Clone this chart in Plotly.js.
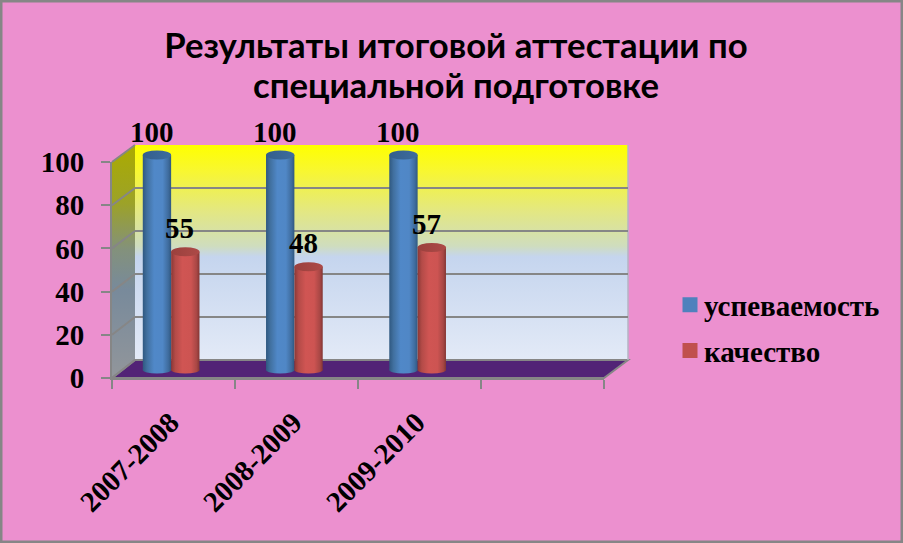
<!DOCTYPE html>
<html>
<head>
<meta charset="utf-8">
<script src="https://cdn.plot.ly/plotly-3.0.1.min.js"></script>
<style>html,body{margin:0;padding:0;background:#EC90CF;overflow:hidden}#c{width:903px;height:543px}</style>
</head>
<body>
<div id="c"></div>
<script>
const categories = ['2007-2008', '2008-2009', '2009-2010', ' '];
const seriesNames = ['успеваемость', 'качество'];
const passRate = [100, 100, 100, null];
const quality = [55, 48, 57, null];
const yTicks = [0, 20, 40, 60, 80, 100];
const titleText = 'Результаты итоговой аттестации по<br>специальной подготовке';

const W = 903, H = 543;
const px = v => v / W, py = v => 1 - v / H;
const serif = '"Liberation Serif", serif';
const GREY = '#868686';
const BLUE = '#4F81BD', RED = '#C0504D';

// geometry of the pseudo-3D box
const front = {l: 112, r: 604, b: 378, t: 162};
const back = {l: 135, r: 628, b: 360, t: 145};
// bar axis runs -5..110 so that the cylinder ends are not clipped (0 at y=370, 100 at y=155)
const bars = {l: 109.5, r: 602.5, b: 380.75, t: 133.5};

const pathOf = pts => 'M' + pts.map(p => px(p[0]) + ',' + py(p[1])).join('L') + 'Z';
const shapes = [];
const grad = {};
function addShape(s, g) { if (g) grad[shapes.length] = g; shapes.push(s); }
const paperShape = (pts, fill, line) => ({type: 'path', xref: 'paper', yref: 'paper', layer: 'below',
  path: pathOf(pts), fillcolor: fill, line: line ? {color: line, width: 2} : {width: 0}});

addShape({type: 'rect', xref: 'paper', yref: 'paper', x0: 0, x1: 1, y0: 0, y1: 1, layer: 'below',
  line: {color: GREY, width: 5}, fillcolor: 'rgba(0,0,0,0)'});
addShape(paperShape([[back.l, back.t], [back.r, back.t], [back.r, back.b], [back.l, back.b]], '#C5D5EF'), 'gWall');
addShape(paperShape([[front.l, front.t], [back.l, back.t], [back.l, back.b], [front.l, front.b]], '#8f9499'), 'gSide');
addShape(paperShape([[front.l, front.b], [back.l, back.b], [back.r, back.b], [front.r, front.b]], '#522376', GREY));
addShape({type: 'line', xref: 'paper', yref: 'paper', layer: 'below',
  x0: px(back.r), x1: px(back.r), y0: py(back.t), y1: py(back.b), line: {color: '#b5b5c5', width: 1.5}});
yTicks.forEach(v => {
  const yf = front.b + (front.t - front.b) * v / 100, yb = back.b + (back.t - back.b) * v / 100;
  addShape({type: 'line', xref: 'paper', yref: 'paper', layer: 'below', x0: px(front.l), y0: py(yf),
    x1: px(back.l), y1: py(yb), line: {color: GREY, width: 2}});
});

const barOffset = [-0.115, 0.115];
const barHalf = 14.2;
[[passRate, 'gBlue', 'gBlueCap'], [quality, 'gRed', 'gRedCap']].forEach((s, k) => {
  s[0].forEach((v, i) => {
    if (v === null) return;
    const base = {type: 'circle', xref: 'x2', yref: 'y2', xsizemode: 'pixel', ysizemode: 'pixel', layer: 'above',
      xanchor: i + barOffset[k], x0: -barHalf, x1: barHalf, line: {width: 0}, fillcolor: k ? RED : BLUE};
    addShape(Object.assign({}, base, {yanchor: 0, y0: -3.5, y1: 3.5}), s[1]);
    addShape(Object.assign({}, base, {yanchor: v, y0: -4.5, y1: 4.5}), s[2]);
  });
});

const annotations = [];
[passRate, quality].forEach((s, k) => s.forEach((v, i) => {
  if (v === null) return;
  annotations.push({xref: 'x2', yref: 'y2', x: i + barOffset[k], y: v, text: String(v), showarrow: false,
    xshift: k ? -5.5 : -5, yshift: 23.5, font: {family: serif, size: 29, color: '#000', weight: 'bold'}});
}));

const traces = [
  {type: 'scatter', mode: 'none', x: categories, y: [0, 0, 0, 0], xaxis: 'x', yaxis: 'y', showlegend: false, hoverinfo: 'skip'},
  {type: 'bar', name: seriesNames[0], x: categories, y: passRate, xaxis: 'x2', yaxis: 'y2', marker: {color: BLUE, line: {width: 0}}, legendgroup: 'a'},
  {type: 'bar', name: seriesNames[1], x: categories, y: quality, xaxis: 'x2', yaxis: 'y2', marker: {color: RED, line: {width: 0}}, legendgroup: 'b'},
  {type: 'scatter', mode: 'none', x: categories, y: [0, 0, 0, 0], xaxis: 'x3', yaxis: 'y3', showlegend: false, hoverinfo: 'skip'}
];

const catAxis = {type: 'category', categoryorder: 'array', categoryarray: categories, range: [-0.5, 3.5], fixedrange: true};
const layout = {
  width: W, height: H,
  margin: {l: 0, r: 0, t: 0, b: 0, pad: 0},
  paper_bgcolor: '#EC90CF', plot_bgcolor: 'rgba(0,0,0,0)',
  barmode: 'group', bargap: 0.54, bargroupgap: 0,
  title: {text: titleText, x: 456 / W, xanchor: 'center', y: py(58), yanchor: 'top',
    font: {family: 'Lato, sans-serif', size: 34.7, color: '#000', weight: 'bold'}},
  showlegend: true,
  legend: {x: px(669), y: py(279.5), xanchor: 'left', yanchor: 'top', bgcolor: 'rgba(0,0,0,0)', borderwidth: 0,
    tracegroupgap: 5, font: {family: serif, size: 29, color: '#000', weight: 'bold'}, itemclick: false, itemdoubleclick: false},
  xaxis: Object.assign({}, catAxis, {domain: [px(back.l), px(back.r)], anchor: 'y', showticklabels: false, ticks: '', showgrid: false, showline: false, zeroline: false}),
  yaxis: {domain: [py(back.b), py(back.t)], anchor: 'x', range: [0, 100], tickvals: yTicks, showticklabels: false, ticks: '', showline: false, zeroline: false, showgrid: true, gridcolor: GREY, gridwidth: 2},
  xaxis2: Object.assign({}, catAxis, {domain: [px(bars.l), px(bars.r)], anchor: 'y2', showticklabels: false, ticks: '', showgrid: false, showline: false, zeroline: false}),
  yaxis2: {domain: [py(bars.b), py(bars.t)], anchor: 'x2', range: [-5, 110], showticklabels: false, ticks: '', showgrid: false, showline: false, zeroline: false},
  xaxis3: Object.assign({}, catAxis, {domain: [px(front.l), px(front.r)], anchor: 'y3', showline: true, linecolor: GREY, linewidth: 2, ticks: 'outside', ticklen: 9, tickwidth: 2, tickcolor: GREY,
    tickson: 'boundaries', showgrid: false, zeroline: false, tickangle: -45, ticklabelstandoff: 14, ticklabelshift: -3, tickfont: {family: serif, size: 29, color: '#000', weight: 'bold'}}),
  yaxis3: {domain: [py(front.b), py(front.t)], anchor: 'x3', range: [0, 100], tickvals: yTicks, showline: true, linecolor: GREY, linewidth: 2, ticks: 'outside', ticklen: 9, tickwidth: 2, tickcolor: GREY,
    ticklabelstandoff: 11, showgrid: false, zeroline: false, tickfont: {family: serif, size: 29, color: '#000', weight: 'bold'}},
  shapes, annotations
};

const gradients = {
  gWall: {v: 1, stops: [[0, '#FFFF00'], [0.12, '#F8F730'], [0.3, '#E4E87F'], [0.47, '#CFDDBE'], [0.52, '#C5D5EE'], [1, '#E3EAF7']]},
  gSide: {v: 1, stops: [[0, '#ABAB00'], [0.25, '#9CA228'], [0.45, '#83917C'], [0.62, '#788A9B'], [1, '#92969B']]},
  gBlue: {v: 0, stops: [[0, '#2F5880'], [0.15, '#41709F'], [0.4, '#5088C8'], [0.7, '#5087C6'], [0.9, '#3F6C9E'], [1, '#2F5880']]},
  gRed: {v: 0, stops: [[0, '#8A3836'], [0.15, '#B44B48'], [0.4, '#D05553'], [0.7, '#CD5452'], [0.9, '#A84745'], [1, '#833533']]},
  gBlueCap: {v: 0, stops: [[0, '#335E8C'], [1, '#3D6C9E']]},
  gRedCap: {v: 0, stops: [[0, '#9A403D'], [1, '#AD4A47']]}
};

function decorate() {
  const gd = document.getElementById('c');
  const svg = gd.querySelector('.main-svg');
  const NS = 'http://www.w3.org/2000/svg';
  let defs = svg.querySelector('defs');
  if (!document.getElementById('gWall')) {
    Object.keys(gradients).forEach(id => {
      const g = document.createElementNS(NS, 'linearGradient');
      g.setAttribute('id', id);
      g.setAttribute('x1', 0); g.setAttribute('y1', 0);
      g.setAttribute('x2', gradients[id].v ? 0 : 1); g.setAttribute('y2', gradients[id].v ? 1 : 0);
      gradients[id].stops.forEach(s => {
        const st = document.createElementNS(NS, 'stop');
        st.setAttribute('offset', s[0]); st.setAttribute('stop-color', s[1]);
        g.appendChild(st);
      });
      defs.appendChild(g);
    });
  }
  Object.keys(grad).forEach(i => {
    gd.querySelectorAll('.shapelayer path[data-index="' + i + '"]').forEach(p => { p.style.fill = 'url(#' + grad[i] + ')'; p.style.fillOpacity = 1; });
  });
  gd.querySelectorAll('.barlayer .trace.bars').forEach((t, k) => {
    t.querySelectorAll('.point path').forEach(p => { p.style.fill = 'url(#' + (k ? 'gRed' : 'gBlue') + ')'; });
  });
  gd.querySelectorAll('.legend .traces').forEach(t => {
    const txt = t.querySelector('.legendtext');
    if (txt) txt.setAttribute('x', 35);
    t.querySelectorAll('.legendpoints path').forEach(p => { p.setAttribute('transform', 'translate(21,0) scale(1.25)'); });
  });
  gd.querySelectorAll('.gtitle tspan.line').forEach((t, i) => { if (i > 0) t.setAttribute('dy', '40px'); });
}

const gdEl = document.getElementById('c');
Plotly.newPlot(gdEl, traces, layout, {displayModeBar: false, responsive: false}).then(() => {
  decorate();
  gdEl.on('plotly_afterplot', decorate);
});
</script>
</body>
</html>
